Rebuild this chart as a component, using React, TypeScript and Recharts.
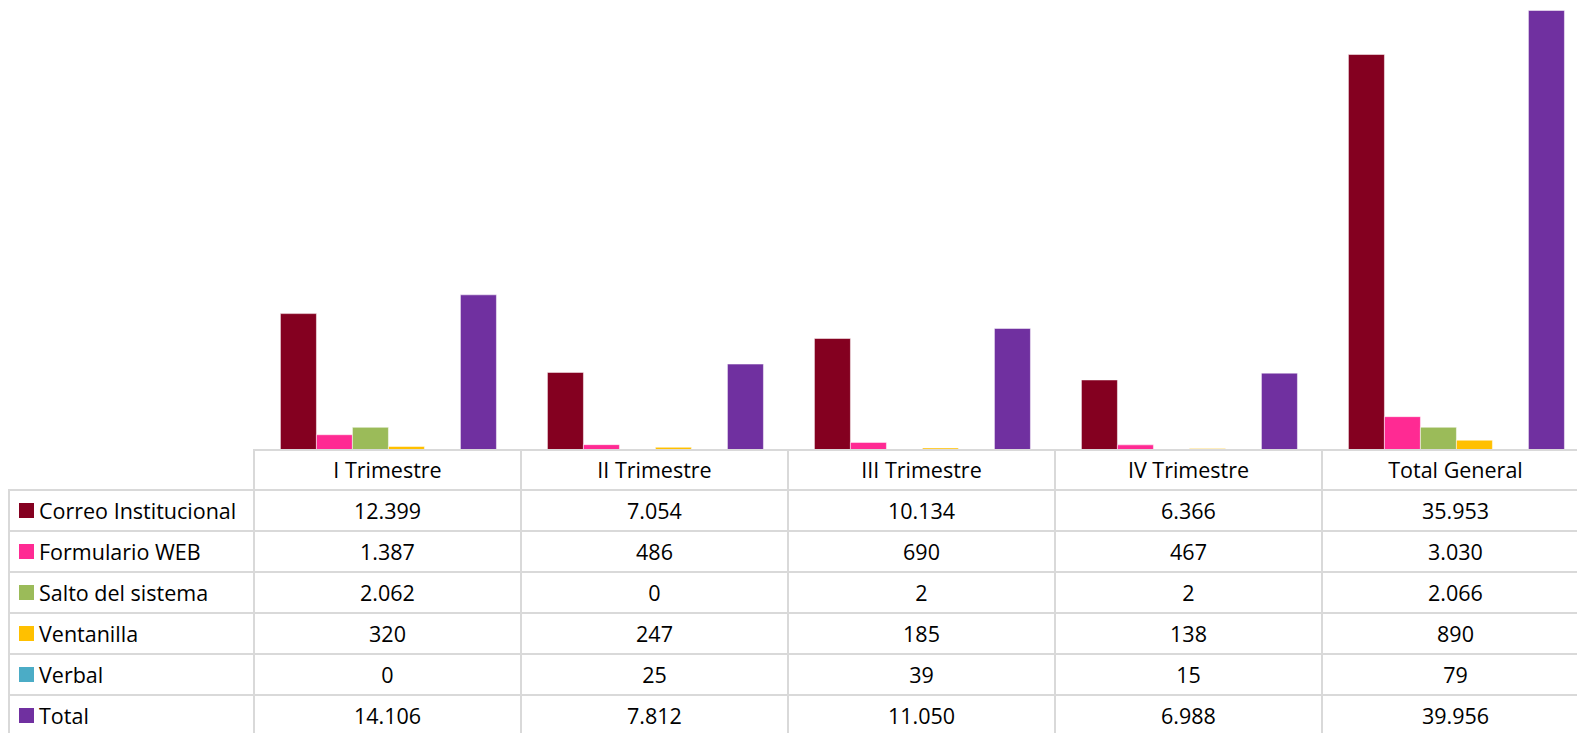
import React from "react";
import { BarChart, Bar, XAxis, YAxis } from "recharts";

const categories = ["I Trimestre", "II Trimestre", "III Trimestre", "IV Trimestre", "Total General"];
const correo = [12399, 7054, 10134, 6366, 35953];
const formulario = [1387, 486, 690, 467, 3030];
const salto = [2062, 0, 2, 2, 2066];
const ventanilla = [320, 247, 185, 138, 890];
const verbal = [0, 25, 39, 15, 79];
const total = [14106, 7812, 11050, 6988, 39956];

const seriesNames = ["Correo Institucional", "Formulario WEB", "Salto del sistema", "Ventanilla", "Verbal", "Total"];
const seriesValues = [correo, formulario, salto, ventanilla, verbal, total];
const seriesColors = ["#840020", "#FF2A93", "#9BBB59", "#FFC000", "#4BACC6", "#7030A0"];
const seriesKeys = ["s0", "s1", "s2", "s3", "s4", "s5"];

const data = categories.map((c, i) => {
  const row: any = { name: c };
  seriesKeys.forEach((k, j) => (row[k] = seriesValues[j][i]));
  return row;
});

const fmt = (v: number) => String(v).replace(/\B(?=(\d{3})+(?!\d))/g, ".");

const FONT = "'Open Sans', 'Noto Sans', sans-serif";
const LINE = "#d9d9d9";
const CHART_LEFT = 254;
const COL_W = 267;
const TABLE_TOP = 449;
const HEAD_H = 41;
const ROW_H = 41;
const W = 1577;
const H = 733;

export default function App() {
  const lines: React.ReactNode[] = [];
  lines.push(
    <div key="h0" style={{ position: "absolute", left: CHART_LEFT, top: TABLE_TOP, width: W - CHART_LEFT, height: 2, background: LINE }} />
  );
  for (let r = 1; r <= seriesNames.length; r++) {
    lines.push(
      <div key={"h" + r} style={{ position: "absolute", left: 8, top: TABLE_TOP + HEAD_H + (r - 1) * ROW_H - 1, width: W - 8, height: 2, background: LINE }} />
    );
  }
  lines.push(
    <div key="v0" style={{ position: "absolute", left: 8, top: TABLE_TOP + HEAD_H - 1, width: 2, height: H, background: LINE }} />
  );
  for (let c = 0; c < categories.length; c++) {
    lines.push(
      <div key={"v" + (c + 1)} style={{ position: "absolute", left: CHART_LEFT + c * COL_W - 1, top: TABLE_TOP, width: 2, height: H, background: LINE }} />
    );
  }

  const texts: React.ReactNode[] = [];
  categories.forEach((c, i) => {
    texts.push(
      <div key={"c" + i} style={{ position: "absolute", left: CHART_LEFT + i * COL_W, top: TABLE_TOP, width: COL_W, height: HEAD_H, lineHeight: HEAD_H + "px", textAlign: "center" }}>
        {c}
      </div>
    );
  });
  seriesNames.forEach((s, j) => {
    const top = TABLE_TOP + HEAD_H + j * ROW_H;
    texts.push(
      <div key={"sq" + j} style={{ position: "absolute", left: 19, top: top + 13, width: 15, height: 15, background: seriesColors[j] }} />
    );
    texts.push(
      <div key={"sn" + j} style={{ position: "absolute", left: 39, top, height: ROW_H, lineHeight: ROW_H + "px", whiteSpace: "nowrap" }}>
        {s}
      </div>
    );
    seriesValues[j].forEach((v, i) => {
      texts.push(
        <div key={"v" + j + "_" + i} style={{ position: "absolute", left: CHART_LEFT + i * COL_W, top, width: COL_W, height: ROW_H, lineHeight: ROW_H + "px", textAlign: "center" }}>
          {fmt(v)}
        </div>
      );
    });
  });

  return (
    <div style={{ position: "absolute", left: 0, top: 0, width: W, height: H, overflow: "hidden", background: "#fff", fontFamily: FONT, fontSize: 21.5, color: "#000" }}>
      <div style={{ position: "absolute", left: CHART_LEFT, top: 0 }}>
        <BarChart
          width={COL_W * categories.length}
          height={TABLE_TOP + 1}
          data={data}
          margin={{ top: 10, right: 0, bottom: 0, left: 0 }}
          barCategoryGap="9.9%"
          barGap={0}
        >
          <XAxis dataKey="name" hide />
          <YAxis hide domain={[0, 40000]} />
          {seriesKeys.map((k, j) => (
            <Bar
              key={k}
              dataKey={k}
              fill={seriesColors[j]}
              stroke="rgba(255,255,255,0.5)"
              strokeWidth={1}
              isAnimationActive={false}
            />
          ))}
        </BarChart>
      </div>
      {lines}
      {texts}
    </div>
  );
}
